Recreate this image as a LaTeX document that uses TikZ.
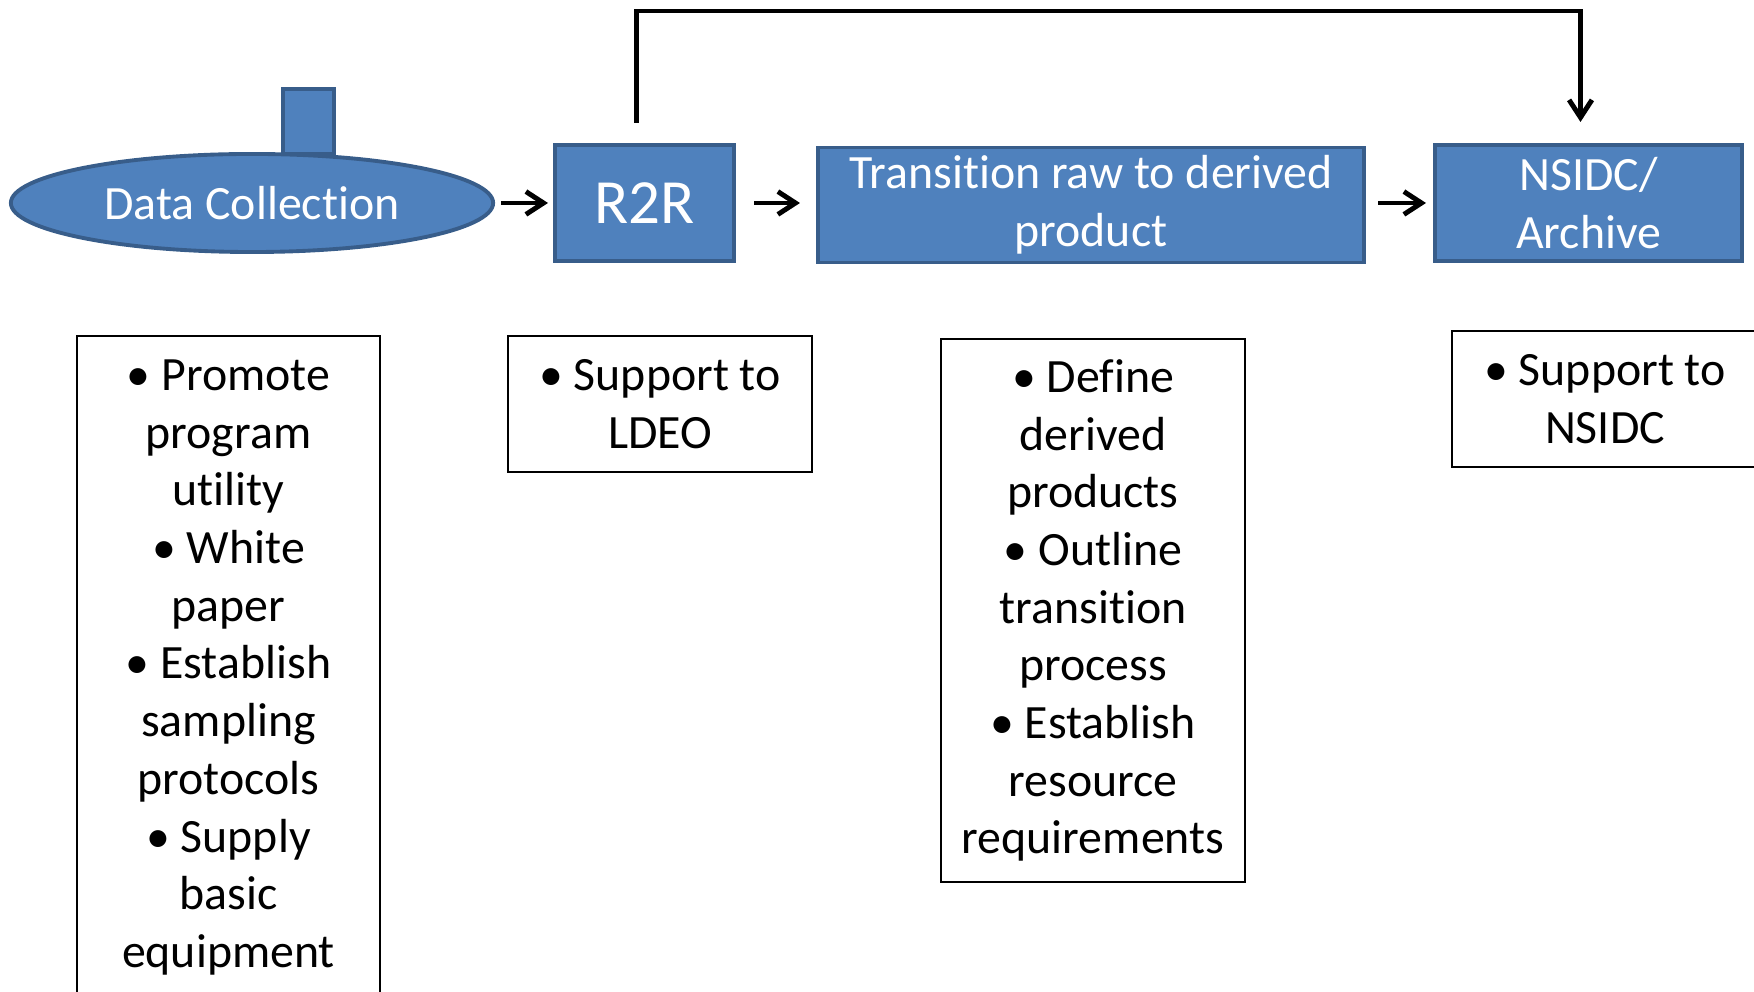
\documentclass[tikz,border=0pt]{standalone}
\usepackage{fontspec}
\setmainfont{Carlito}[Ligatures=NoCommon]
\usetikzlibrary{shapes.geometric, arrows.meta}
\definecolor{boxblue}{HTML}{4F81BD}
\definecolor{boxedge}{HTML}{385D8A}

\begin{document}
\begin{tikzpicture}[x=0.01cm, y=-0.01cm,
every node/.style = {inner sep=0pt, outer sep=0pt},
   blu/.style = {draw=boxedge, line width=1.1pt, fill=boxblue,
      text=white, align=center,
      font=\fontsize{13.6}{16.4}\selectfont},
 blubox/.style args = {#1/#2}{%
      blu, rectangle,
      minimum width=#1*0.01cm, minimum height=#2*0.01cm},
  lst/.style args = {#1/#2}{%
      draw, line width=0.6pt, rectangle, align=center,
      minimum width=#1*0.01cm, minimum height=#2*0.01cm,
      font=\fontsize{13.6}{16.4}\selectfont},
  flow/.style = {-{Straight Barb[length=5pt, width=6.5pt]},
      line width=1.4pt}
                    ]
\useasboundingbox (0,0) rectangle (1754,992);
 %
\node (MST) [blubox=51/65]      at ( 308.5, 121.5) {};
\node (DC)  [blu, ellipse, minimum width=4.82cm, minimum height=0.98cm]
                                at ( 252, 203) {Data Collection};
\node (RR)  [blubox=179/116, font=\fontsize{17.9}{21}\selectfont]
                                at ( 644.5, 203) {R2R};
\node (TR)  [blubox=546/115]    at (1091, 205) {Transition raw to derived\\product};
\node (NS)  [blubox=307/116]    at (1588.5, 203) {NSIDC/\\Archive};
 %
\node (L1)  [lst=303/663]       at ( 228.5, 667.5)
    {\textbullet\ Promote\\program\\utility\\\textbullet\ White\\paper\\
     \textbullet\ Establish\\sampling\\protocols\\\textbullet\ Supply\\basic\\equipment};
\node (L2)  [lst=304/136]       at ( 660, 404) {\textbullet\ Support to\\LDEO};
\node (L3)  [lst=304/543]       at (1093, 610.5)
    {\textbullet\ Define\\derived\\products\\\textbullet\ Outline\\transition\\process\\
     \textbullet\ Establish\\resource\\requirements};
\node (L4)  [lst=306/136]       at (1605, 399) {\textbullet\ Support to\\NSIDC};
 %
\draw[flow, shorten <=0.08cm, shorten >=0.07cm] (DC) -- (RR);
\draw[flow, shorten <=0.2cm, shorten >=0.18cm]  (RR) -- (RR -| TR.west);
\draw[flow, shorten <=0.14cm, shorten >=0.09cm] (TR.east |- NS) -- (NS);
\draw[flow] ([shift={(-8,-22)}]RR.north) -- ++(0,-112)
            -| ([shift={(-8,-23)}]NS.north);
\end{tikzpicture}
\end{document}
